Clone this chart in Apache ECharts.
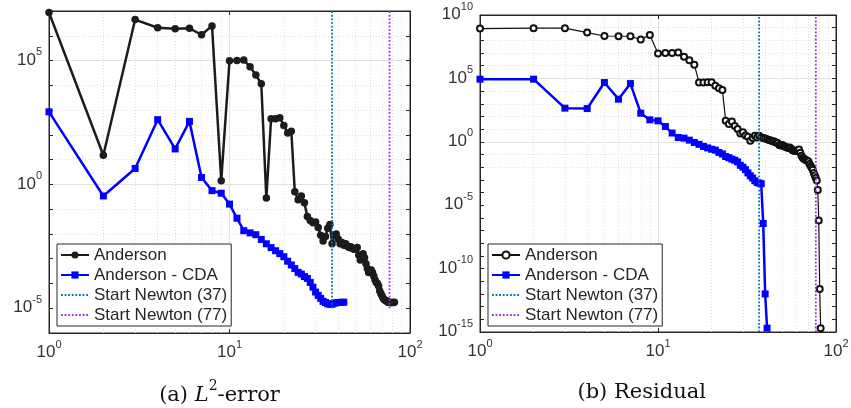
<!DOCTYPE html>
<html>
<head>
<meta charset="utf-8">
<script src="https://cdn.jsdelivr.net/npm/echarts@6/dist/echarts.min.js"></script>
<style>
  html, body { margin: 0; padding: 0; background: #fff; }
  #chart { width: 851px; height: 408px; }
</style>
</head>
<body>
<div id="chart"></div>
<script>
// iteration k is the array index + 1

// (a) L2-error
const errAnderson = [
  8.7e6, 1.5e1, 4.5e6, 2.1e6, 1.9e6, 2.0e6, 1.1e6, 2.5e6, 1.4, 9.8e4,
  1.0e5, 1.05e5, 5.6e4, 2.6e4, 1.15e4, 2.8e-1, 4.5e2, 4.5e2, 4.9e2, 2.4e2,
  1.2e2, 1.4e2, 5.1e-1, 2.4e-1, 3.4e-1, 1.8e-1, 5.0e-2, 3.5e-2, 2.8e-2, 3.0e-2,
  1.8e-2, 8.9e-3, 5.2e-3, 7.9e-3, 1.7e-2, 2.4e-2, 4.0e-3, 8.9e-3, 1.0e-2, 6.3e-3,
  4.0e-3, 4.5e-3, 3.5e-3, 4.0e-3, 3.2e-3, 2.8e-3, 3.0e-3, 2.6e-3, 2.4e-3, 2.5e-3,
  2.8e-3, 1.4e-3, 8.9e-4, 1.3e-3, 1.6e-3, 1.1e-3, 6.3e-4, 4.0e-4, 2.8e-4, 3.2e-4,
  3.5e-4, 2.8e-4, 2.0e-4, 1.4e-4, 1.1e-4, 1.0e-4, 7.9e-5, 5.0e-5, 3.8e-5, 3.2e-5,
  2.5e-5, 2.2e-5, 2.1e-5, 2.0e-5, 1.8e-5, 1.75e-5, 1.75e-5, 1.7e-5, 1.7e-5, 1.7e-5,
  1.7e-5, 1.75e-5
];
const errCDA = [
  8.5e2, 3.4e-1, 4.4, 4.1e2, 2.7e1, 3.5e2, 1.9, 5.6e-1, 4.4e-1, 1.6e-1,
  4.3e-2, 1.35e-2, 1.1e-2, 9.3e-3, 6.0e-3, 4.0e-3, 2.8e-3, 2.1e-3, 1.6e-3, 1.2e-3,
  7.9e-4, 5.6e-4, 4.0e-4, 2.8e-4, 2.4e-4, 1.9e-4, 1.6e-4, 1.1e-4, 7.1e-5, 4.5e-5,
  3.3e-5, 2.5e-5, 1.9e-5, 1.7e-5, 1.5e-5, 1.45e-5, 1.45e-5, 1.6e-5, 1.65e-5, 1.7e-5,
  1.7e-5, 1.75e-5, 1.75e-5
];

// (b) residual
const resAnderson = [
  8.5e8, 9.1e8, 9.1e8, 4.1e8, 2.2e8, 2.1e8, 2.1e8, 1.15e8, 2.7e8, 9.1e6,
  1.0e7, 1.0e7, 1.1e7, 5.0e6, 2.75e6, 1.2e6, 4.7e4, 4.7e4, 5.0e4, 5.0e4,
  2.6e4, 1.7e4, 1.2e4, 45, 25, 40, 18, 10, 4.6, 5.6,
  3.2, 2.5, 1.2, 2.0, 3.0, 2.2, 3.0, 2.2, 2.0, 1.8,
  1.6, 1.4, 1.26, 1.1, 1.05, 0.89, 0.79, 0.56, 0.50, 0.56,
  0.45, 0.40, 0.35, 0.32, 0.35, 0.28, 0.22, 0.20, 0.20, 0.19,
  0.22, 0.25, 0.14, 0.079, 0.056, 0.045, 0.040, 0.035, 0.032, 0.028,
  0.018, 0.0126, 0.0089, 0.0063, 0.0035, 0.0022, 0.0014, 8.9e-4, 1.6e-4, 6.3e-7,
  2.5e-12, 2.0e-15
];
const resCDA = [
  8.7e4, 8.7e4, 450, 420, 4.7e4, 2.3e3, 3.9e4, 180, 54, 45,
  16, 4.9, 2.2, 1.95, 1.35, 0.89, 0.63, 0.43, 0.33, 0.26,
  0.22, 0.145, 0.11, 0.069, 0.056, 0.043, 0.035, 0.026, 0.014, 0.010,
  0.0063, 0.0035, 0.0021, 0.0014, 8.5e-4, 6.3e-4, 5.6e-4, 5.0e-4, 3.6e-7, 1.0e-12,
  2.0e-15
];

const newtonStarts = [37, 77];
const newtonSpanL = [1e-5, 1e7];
const newtonSpanR = [1e-15, 1e10];

const xRange = [1, 100];
const yRangeL = [1e-6, 1e7];
const yRangeR = [1e-15, 1e10];

const gridXMajor = [10];
const gridXMinor = [2, 3, 4, 5, 6, 7, 8, 9, 20, 30, 40, 50, 60, 70, 80, 90];
const gridYMajorL = [1e-5, 1, 1e5];
const gridYMinorL = [1e-6, 1e-4, 1e-3, 1e-2, 1e-1, 1e1, 1e2, 1e3, 1e4, 1e6];
const gridYMajorR = [1e-10, 1e-5, 1, 1e5];
const gridYMinorR = [1e-14, 1e-13, 1e-12, 1e-11, 1e-9, 1e-8, 1e-7, 1e-6, 1e-4, 1e-3,
  1e-2, 1e-1, 1e1, 1e2, 1e3, 1e4, 1e6, 1e7, 1e8, 1e9];

const legendNames = ['Anderson', 'Anderson - CDA', 'Start Newton (37)', 'Start Newton (77)'];

const FONT = '"Liberation Sans", Arial, sans-serif';
const SERIF = '"DejaVu Serif", serif';
const INK = '#262626';
const BLUE = '#0000ff';
const NEWTON_COLORS = ['#0072BD', '#9B30E0'];

const tickRich = {
  b: { fontSize: 17, fontFamily: FONT, color: '#333', lineHeight: 22, verticalAlign: 'bottom' },
  s: { fontSize: 11, fontFamily: FONT, color: '#333', lineHeight: 22, verticalAlign: 'top' }
};
const expOf = (v) => Math.round(Math.log10(v));

function xAxesFor(grid) {
  const base = {
    gridIndex: grid, type: 'log', logBase: 10, min: xRange[0], max: xRange[1],
    splitLine: { show: false },
    axisLine: { show: true, lineStyle: { color: INK, width: 1 } },
    axisTick: { show: true, inside: true, length: 4, lineStyle: { color: INK } }
  };
  return [
    Object.assign({}, base, {
      position: 'bottom',
      axisLabel: { show: true, margin: 6, formatter: (v) => '{b|10}{s|' + expOf(v) + '}', rich: tickRich }
    }),
    Object.assign({}, base, { position: 'top', axisLabel: { show: false } })
  ];
}

function yAxesFor(grid, range) {
  const base = {
    gridIndex: grid, type: 'log', logBase: 10, min: range[0], max: range[1], interval: 1,
    splitLine: { show: false },
    axisLine: { show: true, lineStyle: { color: INK, width: 1 } },
    axisTick: { show: true, inside: true, length: 4, lineStyle: { color: INK } }
  };
  return [
    Object.assign({}, base, {
      position: 'left',
      axisLabel: {
        show: true, margin: 7, padding: [0, 0, 6, 0],
        formatter: (v) => (expOf(v) % 5 === 0 ? '{b|10}{s|' + expOf(v) + '}' : ''),
        rich: tickRich
      }
    }),
    Object.assign({}, base, { position: 'right', axisLabel: { show: false } })
  ];
}

function gridLines(xi, yi, yMajor, yMinor) {
  const minorData = gridXMinor.map((v) => ({ xAxis: v }))
    .concat(yMinor.map((v) => ({ yAxis: v })));
  const majorData = gridXMajor.map((v) => ({ xAxis: v }))
    .concat(yMajor.map((v) => ({ yAxis: v })));
  return [
    {
      type: 'line', xAxisIndex: xi, yAxisIndex: yi, data: [], silent: true,
      markLine: {
        silent: true, symbol: 'none', z: 0, label: { show: false },
        lineStyle: { color: '#e0e0e0', width: 1, type: [1, 2] },
        emphasis: { disabled: true },
        data: minorData
      }
    },
    {
      type: 'line', xAxisIndex: xi, yAxisIndex: yi, data: [], silent: true,
      markLine: {
        silent: true, symbol: 'none', z: 0, label: { show: false },
        lineStyle: { color: '#e2e2e2', width: 1, type: 'solid' },
        emphasis: { disabled: true },
        data: majorData
      }
    }
  ];
}

function runSeries(name, values, xi, yi, style) {
  return Object.assign({
    name: name, type: 'line', xAxisIndex: xi, yAxisIndex: yi,
    data: values.map((v, i) => [i + 1, v]),
    z: 3
  }, style);
}

function newtonSeries(name, k, span, color, xi, yi) {
  return {
    name: name, type: 'line', xAxisIndex: xi, yAxisIndex: yi,
    data: [[k, span[0]], [k, span[1]]],
    symbol: 'none', z: 4,
    itemStyle: { color: color },
    lineStyle: { color: color, width: 1.8, type: [1.8, 1.8] }
  };
}

const andersonThick = {
  symbol: 'circle', symbolSize: 7.5,
  itemStyle: { color: '#1c1c1c' },
  lineStyle: { color: '#1c1c1c', width: 2.5 }
};
const andersonThin = {
  symbol: 'emptyCircle', symbolSize: 6,
  itemStyle: { color: '#111', borderWidth: 1.3 },
  lineStyle: { color: '#111', width: 1.2 }
};
const cdaStyle = {
  symbol: 'rect', symbolSize: 7,
  itemStyle: { color: BLUE },
  lineStyle: { color: BLUE, width: 2.5 }
};

const R = '#b'; // suffix for right-panel series names
const legendBase = {
  orient: 'vertical', itemWidth: 28, itemHeight: 9, itemGap: 2,
  padding: [2, 4, 2, 3],
  borderColor: INK, borderWidth: 1, borderRadius: 0, backgroundColor: '#fff',
  textStyle: { fontSize: 17, fontFamily: FONT, color: INK, lineHeight: 18 },
  selectedMode: false
};
// Newton entries: dotted line only, no marker
const legendItems = (suffix) => legendNames.map((n, i) =>
  i < 2 ? { name: n + suffix } : { name: n + suffix, itemStyle: { opacity: 0 } });

const chart = echarts.init(document.getElementById('chart'), null, { renderer: 'canvas' });
chart.setOption({
  animation: false,
  backgroundColor: '#fff',
  grid: [
    { left: 49, top: 11, width: 361, height: 322, show: true, borderColor: INK, borderWidth: 1,
      containLabel: false, outerBoundsMode: 'none' },
    { left: 480, top: 15, width: 356, height: 317, show: true, borderColor: INK, borderWidth: 1,
      containLabel: false, outerBoundsMode: 'none' }
  ],
  xAxis: xAxesFor(0).concat(xAxesFor(1)),
  yAxis: yAxesFor(0, yRangeL).concat(yAxesFor(1, yRangeR)),
  legend: [
    Object.assign({}, legendBase, { left: 57, top: 244, data: legendItems('') }),
    Object.assign({}, legendBase, {
      left: 488, top: 244,
      data: legendItems(R),
      formatter: (n) => n.replace(R, '')
    })
  ],
  series: [].concat(
    gridLines(0, 0, gridYMajorL, gridYMinorL),
    gridLines(2, 2, gridYMajorR, gridYMinorR),
    [
      runSeries(legendNames[0], errAnderson, 0, 0, andersonThick),
      runSeries(legendNames[1], errCDA, 0, 0, cdaStyle),
      newtonSeries(legendNames[2], newtonStarts[0], newtonSpanL, NEWTON_COLORS[0], 0, 0),
      newtonSeries(legendNames[3], newtonStarts[1], newtonSpanL, NEWTON_COLORS[1], 0, 0),
      runSeries(legendNames[0] + R, resAnderson, 2, 2, andersonThin),
      runSeries(legendNames[1] + R, resCDA, 2, 2, cdaStyle),
      newtonSeries(legendNames[2] + R, newtonStarts[0], newtonSpanR, NEWTON_COLORS[0], 2, 2),
      newtonSeries(legendNames[3] + R, newtonStarts[1], newtonSpanR, NEWTON_COLORS[1], 2, 2)
    ]
  ),
  graphic: [
    {
      type: 'text', x: 219.5, y: 393, silent: true,
      style: {
        text: '{n|(a) }{i|L}{s|2}{n|-error}',
        align: 'center', verticalAlign: 'middle', fill: '#111',
        rich: {
          n: { fontSize: 21, fontFamily: SERIF, lineHeight: 27, verticalAlign: 'bottom', fill: '#111' },
          i: { fontSize: 21, fontFamily: SERIF, fontStyle: 'italic', lineHeight: 27, verticalAlign: 'bottom', fill: '#111' },
          s: { fontSize: 14, fontFamily: SERIF, lineHeight: 27, verticalAlign: 'top', fill: '#111' }
        }
      }
    },
    {
      type: 'text', x: 641.7, y: 393, silent: true,
      style: {
        text: '(b) Residual', font: '21px "DejaVu Serif", serif',
        align: 'center', verticalAlign: 'middle', fill: '#111'
      }
    }
  ]
});
</script>
</body>
</html>
